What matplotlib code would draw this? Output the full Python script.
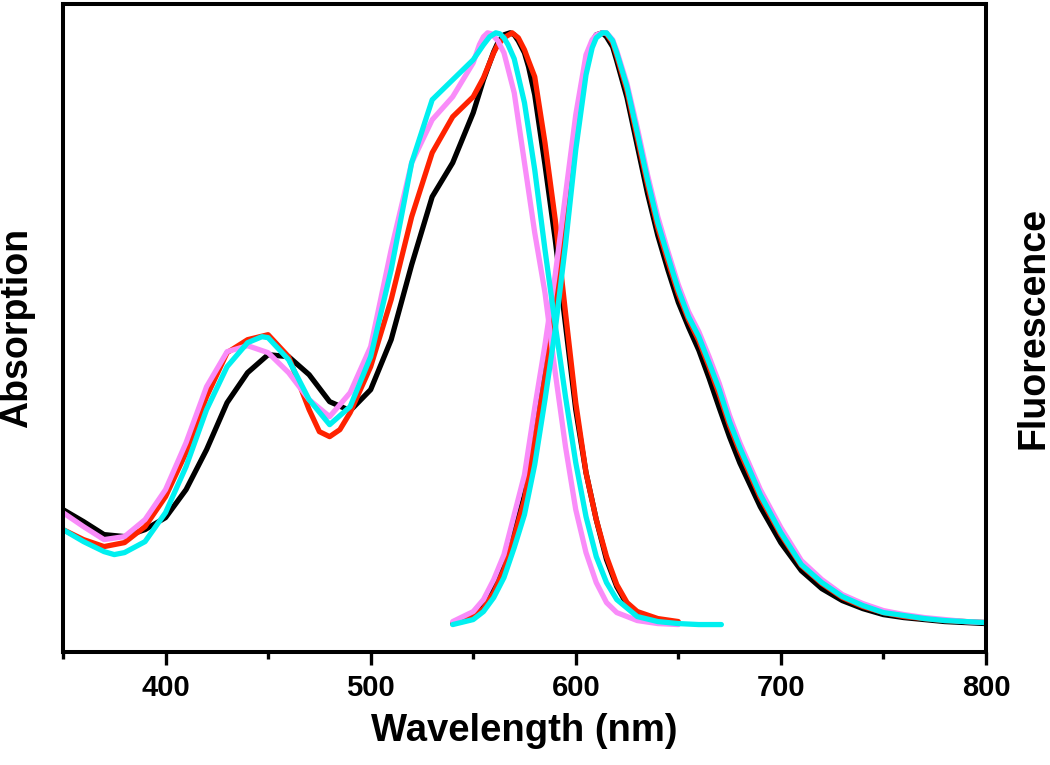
import numpy as np
import matplotlib
matplotlib.use("Agg")
import matplotlib.pyplot as plt
from matplotlib.ticker import MultipleLocator

plt.rcParams['font.family'] = ['Liberation Sans', 'DejaVu Sans']
plt.rcParams['font.weight'] = 'bold'

# absorption spectra (arbitrary units)
abs_black_x = [350, 360, 370, 380, 390, 400, 410, 420, 430, 440, 450, 460, 470, 480, 490, 500, 510,
               520, 530, 540, 550, 555, 560, 562, 565, 568, 570, 572, 575, 577, 580, 585, 590, 595,
               600, 605, 610, 615, 620, 625, 630, 640, 650]
abs_black_y = [115, 103, 90, 88, 95, 107, 135, 175, 222, 252, 270, 268, 250, 223, 214, 235, 285,
               360, 428, 462, 512, 545, 573, 582, 590, 592, 590, 584, 572, 558, 530, 460, 385, 300,
               215, 152, 105, 65, 38, 20, 12, 4, 1]

abs_red_x = [350, 360, 370, 380, 390, 400, 410, 420, 430, 440, 450, 460, 470, 475, 480, 485, 490, 500,
             510, 520, 530, 540, 550, 555, 560, 562, 565, 569, 572, 575, 577, 580, 585, 590, 595, 600,
             605, 610, 615, 620, 625, 630, 640, 650]
abs_red_y = [95, 85, 78, 82, 98, 128, 172, 228, 272, 285, 290, 268, 215, 193, 188, 195, 212, 258,
             325, 408, 472, 508, 528, 547, 572, 580, 587, 592, 587, 575, 564, 548, 482, 405, 312, 222,
             152, 105, 68, 40, 22, 13, 6, 3]

abs_violet_x = [350, 360, 370, 380, 390, 400, 410, 420, 430, 440, 450, 460, 470, 480, 490, 500, 510,
                520, 530, 540, 550, 553, 555, 557, 559, 562, 565, 570, 575, 580, 585, 590, 595, 600,
                605, 610, 615, 620, 630, 640, 650]
abs_violet_y = [112, 98, 85, 88, 105, 135, 182, 238, 273, 279, 272, 252, 225, 208, 232, 278, 375,
                462, 505, 528, 562, 580, 588, 592, 591, 584, 572, 532, 462, 392, 332, 252, 178, 115,
                72, 42, 22, 12, 4, 1, 0]

abs_cyan_x = [350, 360, 370, 375, 380, 390, 400, 410, 420, 430, 440, 447, 450, 460, 470, 480, 490, 500,
              510, 520, 530, 540, 550, 555, 558, 561, 563, 565, 567, 570, 575, 580, 585, 590, 595, 600,
              605, 610, 615, 620, 630, 640, 650, 660, 671]
abs_cyan_y = [95, 83, 73, 70, 72, 83, 112, 158, 215, 258, 282, 288, 287, 265, 225, 200, 218, 268,
              355, 462, 525, 545, 565, 580, 588, 592, 591, 587, 580, 566, 522, 455, 375, 300, 228, 162,
              108, 68, 42, 25, 8, 3, 1, 0, 0]

# fluorescence spectra (arbitrary units)
fl_x = [540, 550, 555, 560, 565, 570, 575, 580, 585, 590, 595, 600, 605, 608, 610, 613, 615, 618,
        620, 625, 630, 635, 640, 645, 650, 655, 660, 665, 670, 675, 680, 690, 700, 710, 720, 730,
        740, 750, 760, 770, 780, 790, 800]
fl_black = [1, 9, 18, 35, 58, 92, 130, 190, 253, 325, 410, 495, 563, 584, 591, 593, 589, 579,
            565, 528, 480, 432, 390, 355, 323, 298, 275, 247, 217, 188, 162, 118, 82, 54, 36, 24,
            16, 10, 7, 5, 3, 2, 1]
fl_red = [1, 8, 16, 32, 55, 88, 125, 185, 247, 320, 403, 490, 559, 580, 589, 592, 591, 582,
          569, 534, 487, 440, 397, 363, 331, 305, 284, 258, 230, 199, 173, 127, 90, 59, 41, 27,
          18, 12, 8, 6, 4, 3, 2]
fl_violet = [3, 13, 25, 45, 70, 110, 150, 217, 280, 350, 430, 510, 570, 585, 590, 592, 592, 585,
             574, 541, 497, 450, 408, 373, 340, 313, 293, 268, 241, 209, 182, 135, 97, 64, 45, 30,
             21, 14, 10, 7, 5, 3, 2]
fl_cyan = [0, 5, 13, 27, 47, 77, 110, 160, 225, 295, 380, 475, 550, 577, 587, 592, 592, 584,
           572, 538, 492, 445, 402, 368, 335, 308, 288, 262, 235, 203, 177, 130, 92, 60, 42, 28,
           19, 12, 9, 6, 4, 3, 2]

colors = {'black': '#000000', 'red': '#ff2200', 'violet': '#f98cf9', 'cyan': '#00f0f0'}

fig, ax = plt.subplots(figsize=(10.5, 7.65), dpi=100)
fig.subplots_adjust(left=0.060, right=0.939, top=0.995, bottom=0.148)

lw = 3.8
series = [
    ('black', abs_black_x, abs_black_y, fl_black),
    ('red', abs_red_x, abs_red_y, fl_red),
    ('violet', abs_violet_x, abs_violet_y, fl_violet),
    ('cyan', abs_cyan_x, abs_cyan_y, fl_cyan),
]
for name, ax_x, ax_y, fl_y in series:
    a = np.array(ax_y, dtype=float)
    f = np.array(fl_y, dtype=float)
    ax.plot(ax_x, a / a.max(), color=colors[name], lw=lw, solid_joinstyle='round',
            solid_capstyle='round')
    ax.plot(fl_x, f / f.max(), color=colors[name], lw=lw, solid_joinstyle='round',
            solid_capstyle='round')

ax.set_xlim(350, 800)
ax.set_ylim(-0.046, 1.049)
ax.set_yticks([])
ax.xaxis.set_major_locator(MultipleLocator(100))
ax.xaxis.set_minor_locator(MultipleLocator(50))
ax.tick_params(axis='x', which='major', direction='out', length=9, width=2.4, pad=7,
               labelsize=21)
ax.tick_params(axis='x', which='minor', direction='out', length=5, width=2.4)
for lab in ax.get_xticklabels():
    lab.set_fontweight('bold')
for sp in ax.spines.values():
    sp.set_linewidth(2.9)

ax.set_xlabel('Wavelength (nm)', fontsize=27.5, fontweight='bold', labelpad=8)
ax.text(-0.050, 0.5, 'Absorption', transform=ax.transAxes, rotation=90,
        ha='center', va='center', fontsize=27, fontweight='bold')
ax.text(1.052, 0.5, 'Fluorescence', transform=ax.transAxes, rotation=90,
        ha='center', va='center', fontsize=27, fontweight='bold')

fig.savefig('out.png', dpi=100)
